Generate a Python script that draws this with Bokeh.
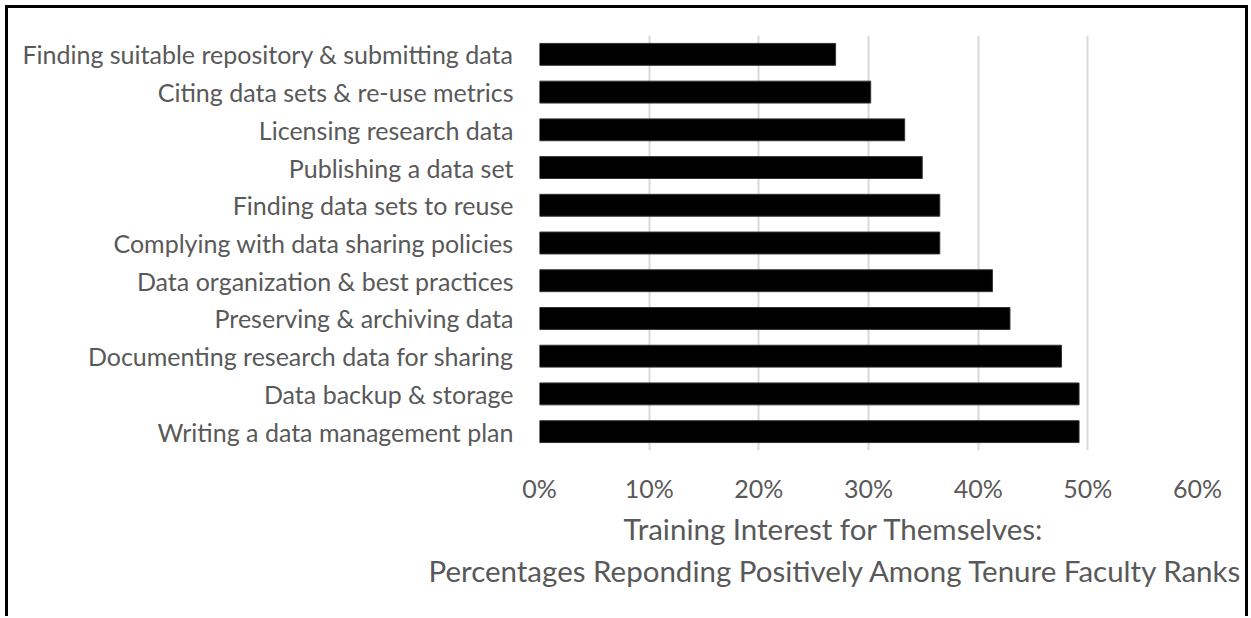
from bokeh.plotting import figure
from bokeh.models import FactorRange, Range1d, FixedTicker, PrintfTickFormatter, Title
from bokeh.embed import file_html
from bokeh.resources import INLINE

categories = [
    "Finding suitable repository & submitting data",
    "Citing data sets & re-use metrics",
    "Licensing research data",
    "Publishing a data set",
    "Finding data sets to reuse",
    "Complying with data sharing policies",
    "Data organization & best practices",
    "Preserving & archiving data",
    "Documenting research data for sharing",
    "Data backup & storage",
    "Writing a data management plan",
]
values = [27.0, 30.2, 33.3, 34.9, 36.5, 36.5, 41.3, 42.9, 47.6, 49.2, 49.2]
x_ticks = [0, 10, 20, 30, 40, 50, 60]
title_lines = [
    "Training Interest for Themselves:",
    "Percentages Reponding Positively Among Tenure Faculty Ranks",
]

FONT = "Lato"
GREY = "#595959"

p = figure(
    width=1249, height=616,
    y_range=FactorRange(factors=list(reversed(categories)), range_padding=0),
    x_range=Range1d(0, 60),
    output_backend="svg", toolbar_location=None,
    min_border_left=539, min_border_right=52, min_border_top=35, min_border_bottom=166,
)
p.outline_line_color = None
p.background_fill_color = "white"
p.border_fill_color = None
p.styles = {
    "background-color": "white",
    "background-image": "linear-gradient(#000,#000), linear-gradient(#000,#000), linear-gradient(#000,#000)",
    "background-size": "3px 100%, 3px 100%, 1243px 3px",
    "background-position": "5px 5px, 1245px 5px, 5px 5px",
    "background-repeat": "no-repeat",
}

p.hbar(y=categories, right=values, left=0, height=0.58,
       fill_color="black", line_color="#333333", line_width=1)

p.ygrid.grid_line_color = None
p.xgrid.grid_line_color = "#d9d9d9"
p.xgrid.grid_line_width = 2

xa = p.xaxis[0]
xa.ticker = FixedTicker(ticks=x_ticks)
xa.formatter = PrintfTickFormatter(format="%d%%")
xa.axis_line_color = None
xa.major_tick_line_color = None
xa.minor_tick_line_color = None
xa.major_tick_out = 0
xa.major_tick_in = 0
xa.major_label_standoff = 22
xa.major_label_text_font = FONT
xa.major_label_text_font_size = "25px"
xa.major_label_text_color = GREY

ya = p.yaxis[0]
ya.axis_line_color = None
ya.major_tick_line_color = None
ya.minor_tick_line_color = None
ya.major_tick_out = 0
ya.major_tick_in = 0
ya.major_label_standoff = 26
ya.major_label_text_font = FONT
ya.major_label_text_font_size = "25px"
ya.major_label_text_color = GREY

for line, off, so in zip(title_lines, [84, -111], [6, 4]):
    p.add_layout(Title(text=line, align="left", offset=off,
                       text_font=FONT, text_font_size="29.5px", text_font_style="normal",
                       text_color=GREY, standoff=so), "below")

open("out.html", "w").write(file_html(p, INLINE))
